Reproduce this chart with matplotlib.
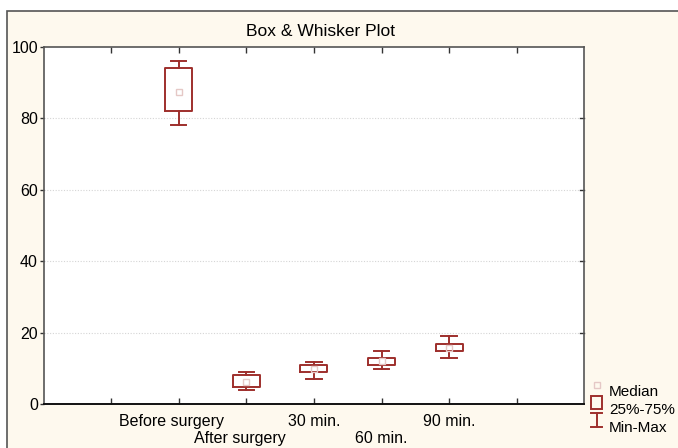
import matplotlib
matplotlib.use('Agg')
import matplotlib.pyplot as plt
from matplotlib.patches import Rectangle
from matplotlib.lines import Line2D
from matplotlib.transforms import blended_transform_factory

plt.rcParams['font.family'] = ['Liberation Sans', 'DejaVu Sans']

# data
groups = ['Before surgery', 'After surgery', '30 min.', '60 min.', '90 min.']
positions = [2, 3, 4, 5, 6]
mins = [78.1, 3.9, 7.0, 9.9, 13.0]
q1 = [82.1, 4.9, 8.9, 11.0, 14.9]
medians = [87.3, 6.1, 9.9, 12.1, 15.8]
q3 = [94.0, 8.1, 11.1, 13.0, 16.9]
maxs = [96.1, 9.0, 11.9, 15.0, 19.0]
yticks = [0, 20, 40, 60, 80, 100]

W, H = 678, 448
box_col = '#9E2F2C'
med_col = '#E5C8C6'
bg = '#FEF9EE'


def fx(px):
    return px / W


def fy(py):
    return 1 - py / H


fig = plt.figure(figsize=(6.78, 4.48), dpi=100)
fig.patch.set_facecolor('white')
# cream frame behind everything
fig.patches.append(Rectangle((fx(7), -0.1), 1.2, fy(11) + 0.1, transform=fig.transFigure,
                             facecolor=bg, edgecolor='#555555', linewidth=1.2, zorder=-5))

ax = fig.add_axes([fx(43.5), fy(404.2), fx(584.3) - fx(43.5), fy(46.7) - fy(404.2)])
ax.set_zorder(2)
ax.set_facecolor('white')

stats = []
for i in range(len(groups)):
    stats.append({'whislo': mins[i], 'q1': q1[i], 'med': medians[i],
                  'q3': q3[i], 'whishi': maxs[i], 'fliers': []})

lp = dict(color=box_col, linewidth=1.4)
ax.bxp(stats, positions=positions, widths=0.4, capwidths=0.23, showfliers=False,
       boxprops=lp, whiskerprops=lp, capprops=lp,
       medianprops=dict(linestyle='none'))
ax.plot(positions, medians, 's', markersize=4.5, markerfacecolor='none',
        markeredgecolor=med_col, markeredgewidth=1.0, zorder=5)

ax.set_xlim(0, 8)
ax.set_ylim(0, 100)
ax.set_xticks(range(1, 8))
ax.set_xticklabels([])
ax.set_yticks(yticks)
ax.set_yticklabels([str(v) for v in yticks], fontsize=11.5)
ax.tick_params(axis='x', direction='in', top=True, bottom=True, length=4,
               width=1, color='#333333')
ax.tick_params(axis='y', direction='out', left=True, right=False, length=3,
               width=1, color='#333333', pad=1)
for v in yticks[1:-1]:
    ax.axhline(v, color='#D5D5D5', linestyle=(0, (1, 1.5)), linewidth=0.8, zorder=0)
    ax.plot([8 - 0.06, 8], [v, v], color='#333333', linewidth=1, clip_on=False)

for s in ['top', 'left', 'right']:
    ax.spines[s].set_color('#555555')
    ax.spines[s].set_linewidth(1.2)
ax.spines['bottom'].set_color('#111111')
ax.spines['bottom'].set_linewidth(1.4)

# staggered category labels
lab_tr = blended_transform_factory(ax.transData, fig.transFigure)
for i, (p, g) in enumerate(zip(positions, groups)):
    row_y = 421 if i % 2 == 0 else 438
    shift = -0.1 if 'surgery' in g else 0
    ax.text(p + shift, fy(row_y), g, transform=lab_tr, ha='center', va='center',
            fontsize=11.5, clip_on=False)

fig.text(fx(320), fy(32), 'Box & Whisker Plot', ha='center', va='center', fontsize=12.5)

# legend
fig.add_artist(Line2D([fx(596.7)], [fy(385)], marker='s', markersize=4.5,
                      markerfacecolor='none', markeredgecolor=med_col, linestyle='none'))
fig.patches.append(Rectangle((fx(591), fy(409)), fx(602.3) - fx(591), fy(396) - fy(409),
                             transform=fig.transFigure, facecolor='none',
                             edgecolor=box_col, linewidth=1.4))
fig.add_artist(Line2D([fx(596.7), fx(596.7)], [fy(413), fy(426.7)], color=box_col, linewidth=1.4))
fig.add_artist(Line2D([fx(591), fx(602.3)], [fy(413), fy(413)], color=box_col, linewidth=1.4))
fig.add_artist(Line2D([fx(591), fx(602.3)], [fy(426.7), fy(426.7)], color=box_col, linewidth=1.4))
for label, py in [('Median', 392), ('25%-75%', 409.5), ('Min-Max', 427.5)]:
    fig.text(fx(609), fy(py), label, ha='left', va='center', fontsize=11)

fig.savefig('out.png', dpi=100)
